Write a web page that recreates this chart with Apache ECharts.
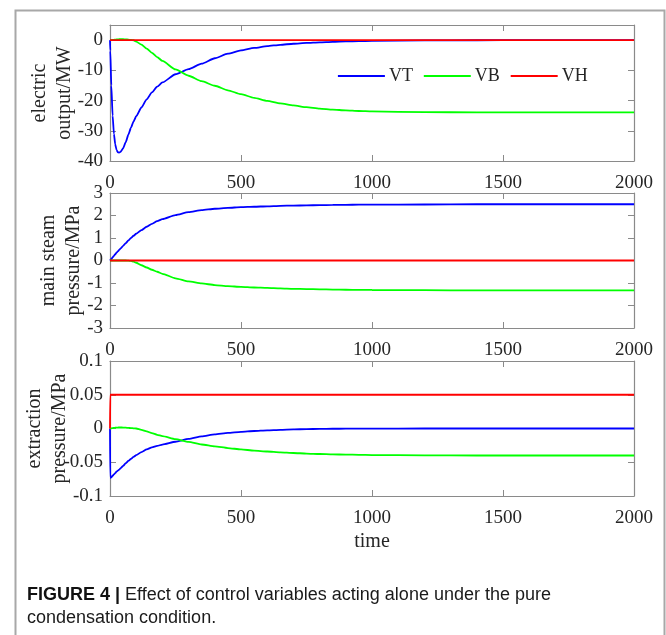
<!DOCTYPE html>
<html>
<head>
<meta charset="utf-8">
<script src="https://cdn.jsdelivr.net/npm/echarts@6/dist/echarts.min.js"></script>
<style>
html,body{margin:0;padding:0;background:#fff;}
#chart{width:666px;height:635px;}
</style>
</head>
<body>
<div id="chart"></div>
<script>
// ---- data ----
const time = [0,1,5,10,15,20,25,30,35,40,50,60,70,80,90,100,120,140,160,180,200,250,300,350,400,450,500,550,600,650,700,750,800,850,900,950,1000,1200,1400,1600,1800,2000];

const seriesNames = ['VT','VB','VH'];

// electric output / MW
const elecVT = [0,-3.5,-15,-25,-31,-34.5,-36.3,-37.1,-37.2,-37.0,-35.8,-33.8,-31.3,-29.0,-26.9,-25.2,-22.3,-19.6,-17.3,-15.4,-14.0,-11.3,-9.6,-7.8,-6.0,-4.5,-3.4,-2.6,-2.0,-1.55,-1.2,-0.93,-0.72,-0.56,-0.44,-0.35,-0.28,-0.1,-0.04,-0.01,0,0];
const elecVB = [0,0,0.02,0.05,0.1,0.15,0.2,0.25,0.28,0.3,0.3,0.25,0.15,0.05,-0.05,-0.5,-1.5,-2.8,-4.2,-5.6,-6.9,-9.7,-11.8,-13.6,-15.1,-16.6,-17.9,-19.1,-20.1,-20.9,-21.6,-22.2,-22.65,-23.0,-23.25,-23.45,-23.6,-23.85,-23.9,-23.9,-23.9,-23.9];
const elecVH = [0,0,0,0,0,0,0,0,0,0,0,0,0,0,0,0,0,0,0,0,0,0,0,0,0,0,0,0,0,0,0,0,0,0,0,0,0,0,0,0,0,0];

// main steam pressure / MPa
const steamVT = [0,0.015,0.07,0.14,0.21,0.28,0.35,0.41,0.47,0.53,0.65,0.77,0.89,1.0,1.1,1.19,1.35,1.5,1.63,1.75,1.84,2.02,2.15,2.24,2.3,2.34,2.37,2.39,2.41,2.43,2.44,2.45,2.46,2.47,2.475,2.48,2.485,2.49,2.5,2.5,2.5,2.5];
const steamVB = [0,0,0,0,0,0,0,0,0,0,0,0,-0.005,-0.02,-0.05,-0.1,-0.21,-0.31,-0.41,-0.5,-0.59,-0.79,-0.93,-1.02,-1.09,-1.14,-1.17,-1.2,-1.22,-1.24,-1.26,-1.27,-1.28,-1.29,-1.3,-1.305,-1.31,-1.32,-1.33,-1.33,-1.33,-1.33];
const steamVH = [0,0,0,0,0,0,0,0,0,0,0,0,0,0,0,0,0,0,0,0,0,0,0,0,0,0,0,0,0,0,0,0,0,0,0,0,0,0,0,0,0,0];

// extraction pressure / MPa
const extrVT = [0,-0.073,-0.0725,-0.070,-0.068,-0.066,-0.064,-0.0625,-0.061,-0.059,-0.0555,-0.0515,-0.048,-0.045,-0.042,-0.0395,-0.035,-0.031,-0.028,-0.0258,-0.0238,-0.0196,-0.0155,-0.0117,-0.0088,-0.0066,-0.0049,-0.0037,-0.0027,-0.0019,-0.0013,-0.0009,-0.0006,-0.0004,-0.0003,-0.0002,-0.0001,0,0,0,0,0];
const extrVB = [0,0,0.0003,0.0006,0.0009,0.0011,0.0013,0.0014,0.0015,0.0015,0.0014,0.0012,0.0009,0.0006,0.0003,0,-0.002,-0.0042,-0.0068,-0.0093,-0.0113,-0.0158,-0.0198,-0.0237,-0.0265,-0.029,-0.031,-0.0327,-0.0341,-0.0353,-0.0363,-0.0371,-0.0378,-0.0383,-0.0387,-0.039,-0.0393,-0.0398,-0.04,-0.04,-0.04,-0.04];
const extrVH = [0,0.05,0.05,0.05,0.05,0.05,0.05,0.05,0.05,0.05,0.05,0.05,0.05,0.05,0.05,0.05,0.05,0.05,0.05,0.05,0.05,0.05,0.05,0.05,0.05,0.05,0.05,0.05,0.05,0.05,0.05,0.05,0.05,0.05,0.05,0.05,0.05,0.05,0.05,0.05,0.05,0.05];

const yLabels = ['electric\noutput/MW', 'main steam\npressure/MPa', 'extraction\npressure/MPa'];
const xLabel = 'time';
const captionBold = 'FIGURE 4 |';
const captionRest1 = ' Effect of control variables acting alone under the pure';
const captionLine2 = 'condensation condition.';

// ---- styling ----
const serif = "'Liberation Serif','Times New Roman',serif";
const sans = "'Liberation Sans',Arial,Helvetica,sans-serif";
const textColor = '#262626';
const boxColor = '#8a8a8a';
const colors = ['#0000ff', '#00ff00', '#ff0000'];

const panels = [
  {top: 25, height: 136, min: -40, max: 5, interval: 10, nameGap: 33, hideMax: true, data: [elecVT, elecVB, elecVH]},
  {top: 193, height: 135, min: -3, max: 3, interval: 1, nameGap: 24, hideMax: false, data: [steamVT, steamVB, steamVH]},
  {top: 361, height: 135, min: -0.1, max: 0.1, interval: 0.05, nameGap: 38, hideMax: false, data: [extrVT, extrVB, extrVH]}
];

const grids = [], xAxes = [], yAxes = [], series = [];
const tickStyle = {show: true, inside: true, length: 6, lineStyle: {color: boxColor, width: 1}};
const lineStyleAxis = {show: true, onZero: false, lineStyle: {color: boxColor, width: 1.2}};

panels.forEach((p, i) => {
  grids.push({left: 110, right: 32, top: p.top, height: p.height, containLabel: false, outerBoundsMode: 'none'});
  xAxes.push({
    type: 'value', gridIndex: i, position: 'bottom', min: 0, max: 2000, interval: 500,
    axisLine: lineStyleAxis, axisTick: tickStyle, splitLine: {show: false},
    axisLabel: {show: true, margin: 13, color: textColor, fontFamily: serif, fontSize: 19,
      formatter: v => String(v)},
    name: i === 2 ? xLabel : '', nameLocation: 'middle', nameGap: 36, nameMoveOverlap: false,
    nameTextStyle: {color: textColor, fontFamily: serif, fontSize: 20}
  });
  xAxes.push({
    type: 'value', gridIndex: i, position: 'top', min: 0, max: 2000, interval: 500,
    axisLine: lineStyleAxis, axisTick: tickStyle, splitLine: {show: false},
    axisLabel: {show: false}
  });
  yAxes.push({
    type: 'value', gridIndex: i, position: 'left', min: p.min, max: p.max, interval: p.interval,
    axisLine: lineStyleAxis, axisTick: tickStyle, splitLine: {show: false},
    axisLabel: {show: true, margin: 7, color: textColor, fontFamily: serif, fontSize: 19, showMaxLabel: !p.hideMax},
    name: yLabels[i], nameLocation: 'middle', nameRotate: 90, nameGap: p.nameGap, nameMoveOverlap: false,
    nameTextStyle: {color: textColor, fontFamily: serif, fontSize: 20, lineHeight: 25, align: 'center'}
  });
  yAxes.push({
    type: 'value', gridIndex: i, position: 'right', min: p.min, max: p.max, interval: p.interval,
    axisLine: lineStyleAxis, axisTick: tickStyle, splitLine: {show: false},
    axisLabel: {show: false}
  });
  p.data.forEach((vals, k) => {
    series.push({
      name: seriesNames[k], type: 'line', xAxisIndex: 2 * i, yAxisIndex: 2 * i,
      data: time.map((t, j) => [t, vals[j]]),
      symbol: 'none', showSymbol: false, smooth: 0.2, smoothMonotone: 'x',
      lineStyle: {color: colors[k], width: 1.8}, itemStyle: {color: colors[k]},
      z: k === 2 ? 3 : 2, animation: false
    });
  });
});

const chart = echarts.init(document.getElementById('chart'), null, {renderer: 'canvas'});
chart.setOption({
  animation: false,
  backgroundColor: '#ffffff',
  grid: grids, xAxis: xAxes, yAxis: yAxes, series: series,
  legend: {
    data: seriesNames, left: 337, top: 67, orient: 'horizontal',
    itemWidth: 47, itemHeight: 14, itemGap: 10, padding: 0,
    itemStyle: {opacity: 0},
    lineStyle: {width: 1.8},
    textStyle: {color: textColor, fontFamily: serif, fontSize: 18, padding: [0, 0, 0, -1]}
  },
  graphic: [
    {type: 'rect', left: 13, top: 8, silent: true,
     shape: {width: 649, height: 700},
     style: {fill: 'none', stroke: '#a8a8a8', lineWidth: 2}},
    {type: 'text', left: 27, top: 586, silent: true,
     style: {text: '{b|' + captionBold + '}' + captionRest1, fill: '#1a1a1a', font: '18px ' + sans,
       rich: {b: {fontWeight: 'bold', fontSize: 18, fontFamily: sans, fill: '#111'}}}},
    {type: 'text', left: 27, top: 609, silent: true,
     style: {text: captionLine2, fill: '#1a1a1a', font: '18px ' + sans}}
  ]
});
</script>
</body>
</html>
